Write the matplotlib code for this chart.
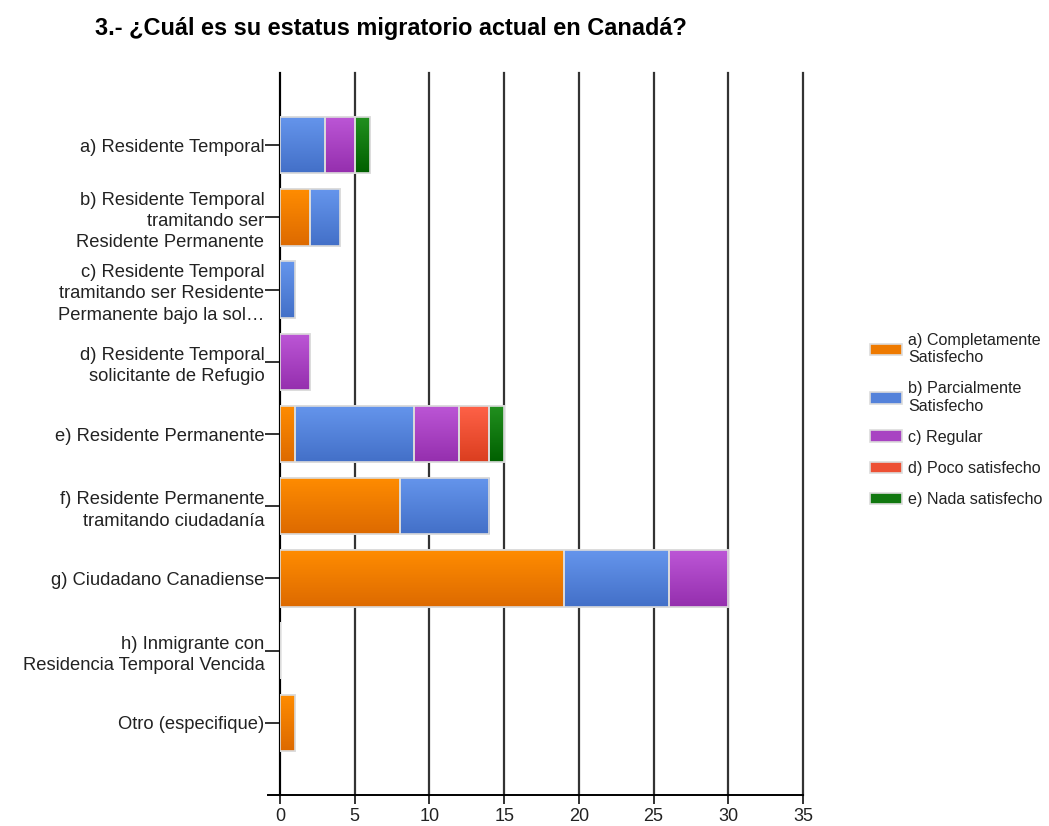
import numpy as np
import matplotlib.pyplot as plt
from matplotlib.colors import LinearSegmentedColormap

# ── Data ─────────────────────────────────────────────────────────────────────
categories = [
    'a) Residente Temporal',
    'b) Residente Temporal\ntramitando ser\nResidente Permanente',
    'c) Residente Temporal\ntramitando ser Residente\nPermanente bajo la sol…',
    'd) Residente Temporal\nsolicitante de Refugio',
    'e) Residente Permanente',
    'f) Residente Permanente\ntramitando ciudadanía',
    'g) Ciudadano Canadiense',
    'h) Inmigrante con\nResidencia Temporal Vencida',
    'Otro (especifique)',
]
series_names = [
    'a) Completamente\nSatisfecho',
    'b) Parcialmente\nSatisfecho',
    'c) Regular',
    'd) Poco satisfecho',
    'e) Nada satisfecho',
]
completamente = [0, 2, 0, 0, 1, 8, 19, 0, 1]
parcialmente  = [3, 2, 1, 0, 8, 6, 7, 0, 0]
regular       = [2, 0, 0, 2, 3, 0, 4, 0, 0]
poco          = [0, 0, 0, 0, 2, 0, 0, 0, 0]
nada          = [1, 0, 0, 0, 1, 0, 0, 0, 0]
series = [completamente, parcialmente, regular, poco, nada]

# (top, mid, bottom) gradient colours per series
grad = [
    ('#ff8c00', '#ee7a00', '#dd6a00'),
    ('#6595ec', '#5482da', '#4370c8'),
    ('#bc56d6', '#a843c2', '#952fae'),
    ('#ff6248', '#ed5034', '#db3e1f'),
    ('#22901f', '#117810', '#006000'),
]

plt.rcParams['font.family'] = ['Liberation Sans', 'DejaVu Sans']
TXT = '#222222'

fig = plt.figure(figsize=(10.49, 8.26), dpi=100)
ax = fig.add_axes([0.2669, 0.0375, 0.4986, 0.8741])

y = np.arange(len(categories))
h = 0.78
left = np.zeros(len(categories))
grad_img = np.linspace(0, 1, 64).reshape(-1, 1)
handles = []
for vals, (c_top, c_mid, c_bot), name in zip(series, grad, series_names):
    vals = np.array(vals, dtype=float)
    bars = ax.barh(y, vals, height=h, left=left, color=c_mid,
                   edgecolor='#dcdcdc', linewidth=1.2, zorder=3, label=name)
    cmap = LinearSegmentedColormap.from_list('g', [c_top, c_bot])
    # vertical gradient fill clipped to each bar segment
    for b, v in zip(bars, vals):
        if v <= 0:
            continue
        x0, y0 = b.get_x(), b.get_y()
        im = ax.imshow(grad_img, cmap=cmap, aspect='auto', zorder=3.5,
                       extent=(x0, x0 + b.get_width(), y0 + b.get_height(), y0),
                       interpolation='bilinear')
        im.set_clip_path(b)
        ax.add_patch(plt.Rectangle((x0, y0), b.get_width(), b.get_height(),
                                   fill=False, edgecolor='#dcdcdc',
                                   linewidth=1.2, zorder=4))
    handles.append(bars)
    left += vals

ax.set_xlim(0, 35)
ax.set_ylim(len(categories), -1)
ax.set_xticks(np.arange(0, 36, 5))
ax.set_yticks(y)
ax.set_yticklabels(categories, fontsize=13.2, color=TXT)
for t in ax.get_yticklabels():
    t.set_linespacing(1.33)
ax.tick_params(axis='y', length=10.8, width=1.3, color=TXT, pad=0.5)
ax.tick_params(axis='x', length=6.5, width=1.3, color=TXT, labelsize=13,
               labelcolor=TXT, pad=3)
ax.grid(axis='x', color='#333333', linewidth=1.6, zorder=1)
for gl in ax.get_xgridlines():
    gl.set_clip_on(False)
for s in ['top', 'right']:
    ax.spines[s].set_visible(False)
ax.spines['left'].set_linewidth(1.4)
ax.spines['bottom'].set_linewidth(1.4)
ax.spines['bottom'].set_bounds(-0.8, 35)

fig.text(0.0906, 0.966, '3.- ¿Cuál es su estatus migratorio actual en Canadá?',
         fontsize=16.9, fontweight='bold', ha='left', va='center')

leg = fig.legend(handles=handles, labels=series_names, loc='center left',
                 bbox_to_anchor=(0.829, 0.4915), frameon=False, fontsize=11.6,
                 handlelength=2.0, handleheight=0.75, labelspacing=1.0,
                 handletextpad=0.4, borderaxespad=0, borderpad=0)
for t in leg.get_texts():
    t.set_color(TXT)
    t.set_linespacing(1.2)

plt.savefig('out.png', dpi=100)
